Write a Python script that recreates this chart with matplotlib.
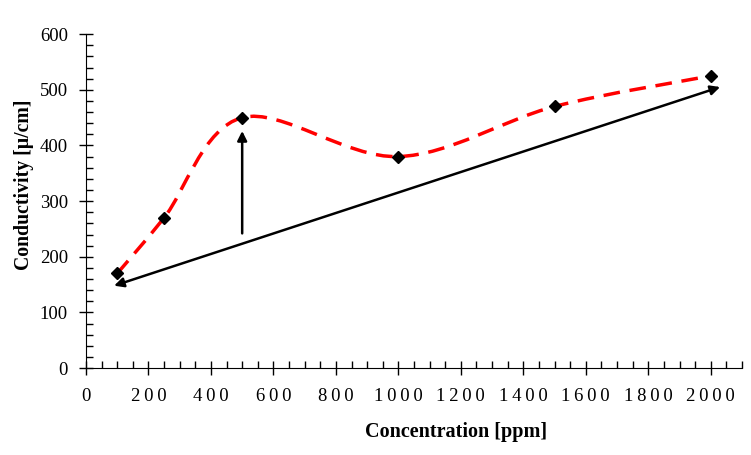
import matplotlib.pyplot as plt
from matplotlib.path import Path
from matplotlib.patches import PathPatch
from matplotlib.ticker import MultipleLocator, FuncFormatter

plt.rcParams['font.family'] = ['Liberation Serif', 'DejaVu Serif']

concentration = [100, 250, 500, 1000, 1500, 2000]
conductivity = [170, 270, 450, 380, 470, 525]

# arrow annotations (trend)
trend_start = (90, 148)
trend_end = (2030, 505)
rise_start = (500, 242)
rise_end = (500, 426)


def smooth_path(xs, ys):
    # Excel-style smoothed line: cubic Bezier segments with Catmull-Rom control points
    n = len(xs)
    verts = [(xs[0], ys[0])]
    codes = [Path.MOVETO]
    for i in range(n - 1):
        x0, y0 = (xs[i - 1], ys[i - 1]) if i > 0 else (xs[i], ys[i])
        x1, y1 = xs[i], ys[i]
        x2, y2 = xs[i + 1], ys[i + 1]
        x3, y3 = (xs[i + 2], ys[i + 2]) if i + 2 < n else (x2, y2)
        c1 = (x1 + (x2 - x0) / 6, y1 + (y2 - y0) / 6)
        c2 = (x2 - (x3 - x1) / 6, y2 - (y3 - y1) / 6)
        verts += [c1, c2, (x2, y2)]
        codes += [Path.CURVE4] * 3
    return Path(verts, codes)


def spaced(v, pos):
    # x tick labels are letter-spaced in the original
    return '\u2009'.join(str(int(v)))


fig = plt.figure(figsize=(7.51, 4.55), dpi=100)
ax = fig.add_axes([0.1145, 0.191, 0.8735, 0.734])

curve = PathPatch(smooth_path(concentration, conductivity), fill=False,
                  edgecolor='red', linewidth=2.5, linestyle=(0, (4.8, 2.8)))
ax.add_patch(curve)
ax.plot(concentration, conductivity, linestyle='none', marker='D',
        color='black', markersize=6)

ax.annotate('', xy=trend_end, xytext=trend_start,
            arrowprops=dict(arrowstyle='<|-|>', color='black', lw=1.8,
                            mutation_scale=14, shrinkA=0, shrinkB=0))
ax.annotate('', xy=rise_end, xytext=rise_start,
            arrowprops=dict(arrowstyle='-|>', color='black', lw=1.8,
                            mutation_scale=14, shrinkA=0, shrinkB=0))

ax.set_xlim(0, 2100)
ax.set_ylim(0, 600)
ax.xaxis.set_major_locator(MultipleLocator(200))
ax.xaxis.set_minor_locator(MultipleLocator(50))
ax.xaxis.set_major_formatter(FuncFormatter(spaced))
ax.yaxis.set_major_locator(MultipleLocator(100))
ax.yaxis.set_minor_locator(MultipleLocator(20))
ax.tick_params(which='major', direction='inout', length=10, width=1, labelsize=13.5)
ax.tick_params(which='minor', direction='in', length=5, width=1)
ax.tick_params(axis='x', pad=9)
ax.tick_params(axis='y', pad=8)

for side in ['top', 'right']:
    ax.spines[side].set_visible(False)

ax.set_xlabel('Concentration [ppm]', fontsize=14.5, fontweight='bold')
ax.set_ylabel('Conductivity [µ/cm]', fontsize=14.2, fontweight='bold')
ax.xaxis.set_label_coords(0.564, -0.16)
ax.yaxis.set_label_coords(-0.08, 0.548)

fig.savefig('out.png', dpi=100)
